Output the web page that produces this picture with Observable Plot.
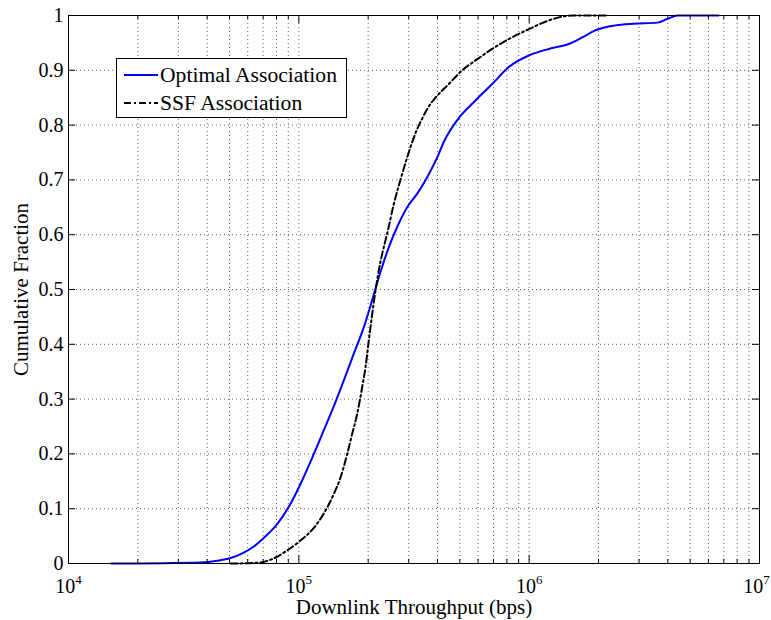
<!DOCTYPE html>
<html><head><meta charset="utf-8">
<script src="https://cdn.jsdelivr.net/npm/d3@7"></script>
<script src="https://cdn.jsdelivr.net/npm/@observablehq/plot@0.6"></script>
<style>
body{margin:0;background:#fff;}
#wrap{position:relative;width:771px;height:620px;}
#legend{position:absolute;left:116px;top:58px;}
</style></head><body><div id="wrap"></div>
<script>
// Optimal Association CDF (throughput in bps, cumulative fraction)
const optimalX = [15370, 37420, 44220, 50500, 57690, 63760, 70470, 80550, 92020, 101700, 112400, 128300, 141900, 156800, 173200, 191400, 208300, 226200, 245800, 267300, 295400, 326600, 360900, 398800, 429100, 491000, 584800, 691100, 815700, 996400, 1217000, 1486000, 1699000, 1941000, 2371000, 2838000, 3608000, 3987000, 4406000, 6639000];
const optimalY = [0, 0.002, 0.005, 0.010, 0.020, 0.031, 0.047, 0.072, 0.109, 0.145, 0.186, 0.243, 0.287, 0.334, 0.383, 0.431, 0.481, 0.532, 0.577, 0.614, 0.650, 0.675, 0.705, 0.741, 0.772, 0.811, 0.845, 0.875, 0.906, 0.927, 0.939, 0.948, 0.960, 0.973, 0.982, 0.985, 0.987, 0.994, 1.0, 1.0];
// SSF Association CDF
const ssfX = [50500, 59680, 68180, 76620, 89040, 101700, 116150, 128300, 141900, 151700, 162200, 170500, 179200, 188400, 194700, 201300, 208300, 215200, 222500, 230100, 241900, 258400, 281100, 305400, 324300, 343300, 364000, 392100, 447900, 512100, 584800, 691100, 815700, 996400, 1217000, 1538000, 2217000];
const ssfY = [0, 0.0005, 0.002, 0.008, 0.024, 0.042, 0.065, 0.091, 0.127, 0.157, 0.2, 0.237, 0.273, 0.322, 0.358, 0.407, 0.456, 0.498, 0.535, 0.565, 0.602, 0.656, 0.711, 0.760, 0.790, 0.812, 0.832, 0.850, 0.875, 0.900, 0.918, 0.939, 0.957, 0.975, 0.991, 1.0, 1.0];

const seriesNames = ["Optimal Association", "SSF Association"];
const xMajorTicks = [1e4, 1e5, 1e6, 1e7];
const xMinorTicks = [2e4,3e4,4e4,5e4,6e4,7e4,8e4,9e4, 2e5,3e5,4e5,5e5,6e5,7e5,8e5,9e5, 2e6,3e6,4e6,5e6,6e6,7e6,8e6,9e6];
const yTicks = [0, 0.1, 0.2, 0.3, 0.4, 0.5, 0.6, 0.7, 0.8, 0.9, 1];
const yTickLabels = ["0", "0.1", "0.2", "0.3", "0.4", "0.5", "0.6", "0.7", "0.8", "0.9", "1"];

const optimal = optimalX.map((x, i) => ({x, y: optimalY[i]}));
const ssf = ssfX.map((x, i) => ({x, y: ssfY[i]}));
const xGrid = xMinorTicks.concat([1e5, 1e6]);
const yGrid = yTicks.slice(1, -1);

const W = 771, H = 620, mL = 68, mR = 12, mT = 15, mB = 57;
const fw = W - mL - mR, fh = H - mT - mB;
const FONT = "'Liberation Serif', 'Times New Roman', serif";

const chart = Plot.plot({
  width: W, height: H,
  marginLeft: mL, marginRight: mR, marginTop: mT, marginBottom: mB,
  style: {fontFamily: FONT, fontSize: "20px", color: "#000", background: "#fff"},
  x: {type: "log", domain: [1e4, 1e7]},
  y: {domain: [0, 1]},
  marks: [
    Plot.ruleX(xGrid, {stroke: "#666", strokeDasharray: "1,3", strokeWidth: 1}),
    Plot.ruleY(yGrid, {stroke: "#666", strokeDasharray: "1,3", strokeWidth: 1}),
    Plot.line(optimal, {x: "x", y: "y", stroke: "#0000ff", strokeWidth: 2, curve: "monotone-x"}),
    Plot.line(ssf, {x: "x", y: "y", stroke: "#000", strokeWidth: 2, strokeDasharray: "7,3,2,3", curve: "monotone-x"}),
    Plot.ruleX(xMajorTicks, {stroke: "#000", insetTop: fh - 8}),
    Plot.ruleX(xMajorTicks, {stroke: "#000", insetBottom: fh - 8}),
    Plot.ruleX(xMinorTicks, {stroke: "#000", insetTop: fh - 4}),
    Plot.ruleX(xMinorTicks, {stroke: "#000", insetBottom: fh - 4}),
    Plot.ruleY(yTicks, {stroke: "#000", insetRight: fw - 7}),
    Plot.ruleY(yTicks, {stroke: "#000", insetLeft: fw - 7}),
    Plot.frame({stroke: "#000", strokeWidth: 1}),
    Plot.axisX({ticks: xMajorTicks, tickSize: 0, tickPadding: 15,
      tickFormat: d => "10^" + Math.round(Math.log10(d)),
      label: "Downlink Throughput (bps)", labelAnchor: "center", labelArrow: "none", labelOffset: 50, fontSize: 20}),
    Plot.axisY({ticks: yTicks, tickSize: 0, tickPadding: 5,
      tickFormat: d => yTickLabels[yTicks.indexOf(d)],
      label: "Cumulative Fraction", labelAnchor: "center", labelArrow: "none", labelOffset: 55, fontSize: 20})
  ]
});

// superscript exponents on log tick labels
chart.querySelectorAll('[aria-label="x-axis tick label"] text').forEach(t => {
  const s = t.textContent;
  if (s.startsWith("10^")) {
    const e = s.slice(3);
    t.textContent = "10";
    const ts = document.createElementNS("http://www.w3.org/2000/svg", "tspan");
    ts.setAttribute("dy", "-9");
    ts.setAttribute("font-size", "13");
    ts.textContent = e;
    t.appendChild(ts);
    if (e === "7") t.setAttribute("dx", "-3");
  }
});
chart.querySelectorAll('[aria-label="x-axis label"] text, [aria-label="y-axis label"] text').forEach(t => t.setAttribute("font-size", "21"));

const wrap = document.getElementById("wrap");
wrap.appendChild(chart);

// legend
const ns = "http://www.w3.org/2000/svg";
const lg = document.createElementNS(ns, "svg");
lg.setAttribute("id", "legend");
lg.setAttribute("width", 232); lg.setAttribute("height", 62);
lg.innerHTML = `<rect x="0.5" y="0.5" width="230" height="59" fill="#fff" stroke="#000"/>`;
const legendItems = [
  {name: seriesNames[0], stroke: "#0000ff", dash: null, y: 17},
  {name: seriesNames[1], stroke: "#000", dash: "7,3,2,3", y: 45}
];
legendItems.forEach(it => {
  const l = document.createElementNS(ns, "line");
  l.setAttribute("x1", 8); l.setAttribute("x2", 42);
  l.setAttribute("y1", it.y); l.setAttribute("y2", it.y);
  l.setAttribute("stroke", it.stroke); l.setAttribute("stroke-width", 2);
  if (it.dash) l.setAttribute("stroke-dasharray", it.dash);
  lg.appendChild(l);
  const tx = document.createElementNS(ns, "text");
  tx.setAttribute("x", 44); tx.setAttribute("y", it.y + 7);
  tx.setAttribute("font-size", 21.6);
  tx.setAttribute("font-family", FONT);
  tx.textContent = it.name;
  lg.appendChild(tx);
});
wrap.appendChild(lg);
</script></body></html>
